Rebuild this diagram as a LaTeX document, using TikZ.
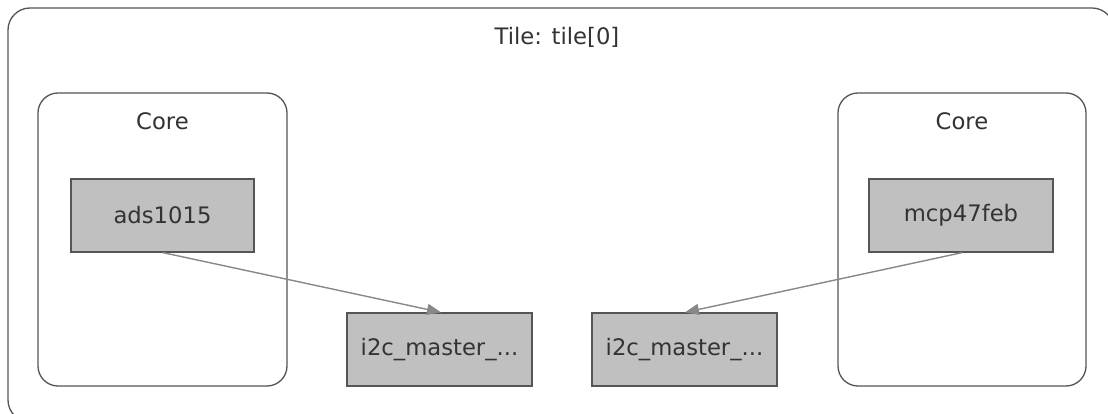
\documentclass[tikz,border=0pt]{standalone}
\usepackage{fontspec}
\setmainfont{DejaVu Sans}
\usetikzlibrary{arrows.meta}
\definecolor{txt}{HTML}{333333}
\definecolor{frame}{HTML}{555555}
\definecolor{boxfill}{HTML}{C0C0C0}
\definecolor{edge}{HTML}{888888}
\tikzset{
  cluster/.style={draw=frame, line width=1.3pt, rounded corners=20pt, fill=white},
  compbox/.style={draw=frame, line width=1.3pt, fill=boxfill, inner sep=0pt, text=txt,
                  font=\fontsize{22.7}{27}\selectfont},
  lbl/.style={text=txt, font=\fontsize{22.7}{27}\selectfont, inner sep=0pt},
  conn/.style={draw=edge, line width=1.4pt, -{Triangle[length=14pt,width=11pt]}}
}
\begin{document}
\begin{tikzpicture}[x=1pt,y=-1pt]
\useasboundingbox (0,0) rectangle (1108,414);
\clip (0,0) rectangle (1108,414);
\fill[white] (0,0) rectangle (1108,414);
% outer tile
\draw[cluster, rounded corners=22pt] (8,8) rectangle (1114,422);
\node[lbl] (title) at (557,37) {Tile: tile[0]};
% cores
\draw[cluster] (38,93) rectangle (287,386);
\node[lbl] (core1) at (162.5,121) {Core};
\draw[cluster] (838,93) rectangle (1086,386);
\node[lbl] (core2) at (962,121) {Core};
% components
\node[compbox, minimum width=183pt, minimum height=73pt] (ads) at (162.5,215.5) {ads1015};
\node[compbox, minimum width=184pt, minimum height=73pt] (mcp) at (961,215.5) {mcp47feb};
\node[compbox, minimum width=185pt, minimum height=73pt] (i2ca) at (439.5,349.5) {i2c\_master\_...};
\node[compbox, minimum width=185pt, minimum height=73pt] (i2cb) at (684.5,349.5) {i2c\_master\_...};
% connectors
\coordinate (a1) at (163,252);
\coordinate (a2) at (441,313);
\coordinate (b1) at (962,252);
\coordinate (b2) at (685,313);
\draw[conn] (ads.south -| a1) -- (i2ca.north -| a2);
\draw[conn] (mcp.south -| b1) -- (i2cb.north -| b2);
\end{tikzpicture}
\end{document}
